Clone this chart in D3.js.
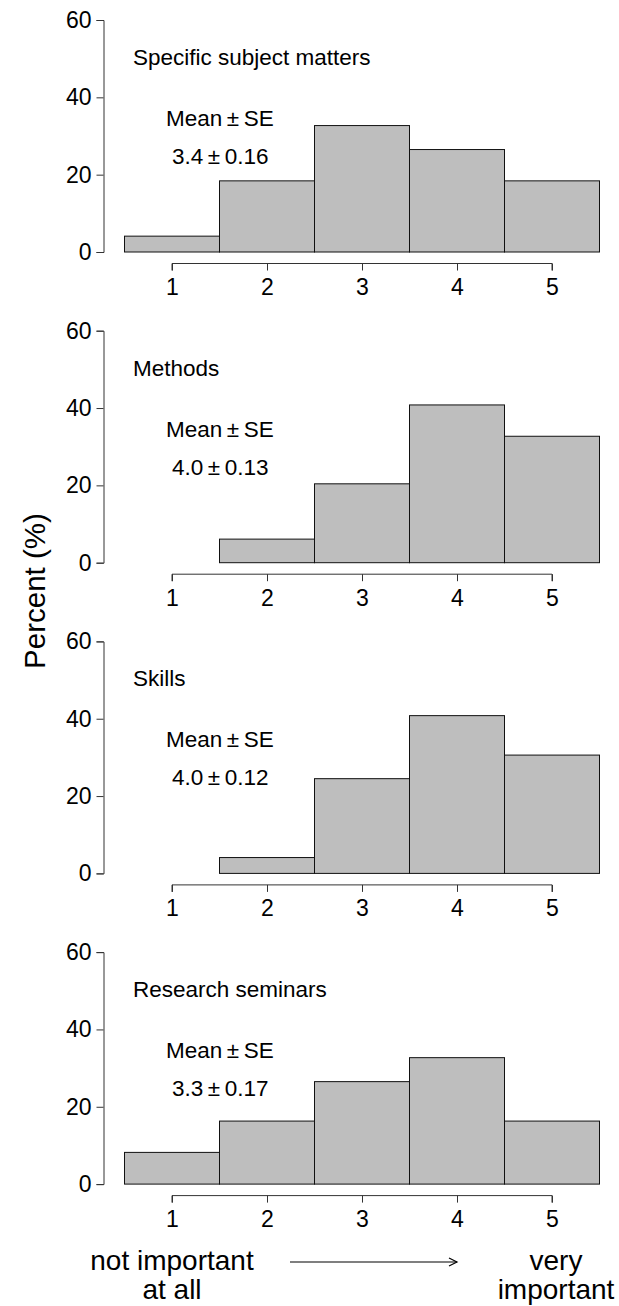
<!DOCTYPE html>
<html><head><meta charset="utf-8">
<script src="https://cdn.jsdelivr.net/npm/d3@7"></script>
<style>body{margin:0;background:#fff}svg{display:block;font-family:"Liberation Sans",Arial,Helvetica,sans-serif}</style>
</head><body><div id="chart"></div>
<script>
const categories = [1, 2, 3, 4, 5];
const panelTitles = ["Specific subject matters", "Methods", "Skills", "Research seminars"];
const subjectValues = [4.1, 18.4, 32.7, 26.5, 18.4];
const methodsValues = [0, 6.1, 20.4, 40.8, 32.7];
const skillsValues = [0, 4.1, 24.5, 40.8, 30.6];
const seminarValues = [8.2, 16.3, 26.5, 32.7, 16.3];
const meanLabels = ["3.4", "4.0", "4.0", "3.3"];
const seLabels = ["0.16", "0.13", "0.12", "0.17"];
const yTicks = [0, 20, 40, 60];
const series = [subjectValues, methodsValues, skillsValues, seminarValues];

const W = 619, H = 1306;
const svg = d3.select("#chart").append("svg").attr("width", W).attr("height", H);
const x = d3.scaleLinear().domain([0.5, 5.5]).range([124.5, 599.5]);
const panelStep = 310.7;
const FS = 22.5;

series.forEach((vals, i) => {
  const y0 = 252 + panelStep * i;
  const y = d3.scaleLinear().domain([0, 60]).range([y0, y0 - 232]);
  const g = svg.append("g");
  g.selectAll("rect").data(categories.map((c, k) => ({c, v: vals[k]})).filter(d => d.v > 0))
    .enter().append("rect")
    .attr("x", d => x(d.c - 0.5)).attr("width", d => x(d.c + 0.5) - x(d.c - 0.5))
    .attr("y", d => y(d.v)).attr("height", d => y(0) - y(d.v))
    .attr("fill", "#bebebe").attr("stroke", "#111").attr("stroke-width", 1);
  const ya = g.append("g").attr("transform", `translate(103.5,0)`)
    .call(d3.axisLeft(y).tickValues(yTicks).tickFormat(d3.format("d")).tickSize(7).tickPadding(5));
  ya.select(".domain").attr("stroke", "#333");
  ya.selectAll(".tick line").attr("stroke", "#333");
  ya.selectAll("text").attr("font-size", 23).attr("fill", "#000").attr("font-family", "Liberation Sans, Arial, sans-serif");
  const xa = g.append("g").attr("transform", `translate(0,${y0 + 11.5})`)
    .call(d3.axisBottom(x).tickValues(categories).tickFormat(d3.format("d")).tickSize(7).tickPadding(8));
  xa.select(".domain").attr("stroke", "#333").attr("d", `M${x(1)},7V0H${x(5)}V7`);
  xa.selectAll(".tick line").attr("stroke", "#333");
  xa.selectAll("text").attr("font-size", 23).attr("fill", "#000").attr("font-family", "Liberation Sans, Arial, sans-serif");
  g.append("text").attr("x", 133).attr("y", y0 - 187).attr("font-size", FS).text(panelTitles[i]);
  g.append("text").attr("x", 166).attr("y", y0 - 126).attr("font-size", FS).text("Mean\u2009\u00b1\u2009SE");
  g.append("text").attr("x", 172).attr("y", y0 - 88).attr("font-size", FS).text(meanLabels[i] + "\u2009\u00b1\u2009" + seLabels[i]);
});

svg.append("text").attr("transform", "translate(45,591) rotate(-90)").attr("text-anchor", "middle")
  .attr("font-size", 29.5).text("Percent (%)");

const bottom = svg.append("g").attr("font-size", 28).attr("text-anchor", "middle");
bottom.append("text").attr("x", 172).attr("y", 1270).text("not important");
bottom.append("text").attr("x", 172).attr("y", 1299).text("at all");
bottom.append("text").attr("x", 556).attr("y", 1270).text("very");
bottom.append("text").attr("x", 556).attr("y", 1299).text("important");
svg.append("line").attr("x1", 290).attr("x2", 457).attr("y1", 1262).attr("y2", 1262).attr("stroke", "#000").attr("stroke-width", 1.2);
svg.append("path").attr("d", "M449,1258L457,1262L449,1266").attr("fill", "none").attr("stroke", "#000").attr("stroke-width", 1.2);
</script></body></html>
